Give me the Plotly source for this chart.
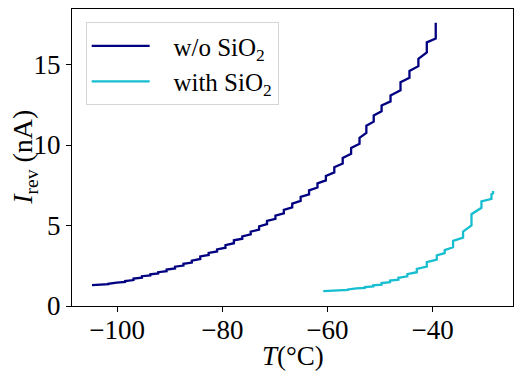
import plotly.graph_objects as go

# w/o SiO2: staircase
# temperature of each rise, current just before the rise, current just after the rise
t_blue = [-104.8, -103.3, -101.7, -100.1, -98.5, -96.9, -95.3, -93.7, -92.2, -90.6,
          -89.0, -87.4, -85.8, -84.2, -82.6, -81.0, -79.4, -77.8, -76.2, -74.6,
          -73.0, -71.5, -69.9, -68.3, -66.7, -65.1, -63.5, -61.9, -60.3, -58.7,
          -57.1, -55.5, -53.9, -52.6, -51.2, -49.7, -48.0, -46.1, -44.4, -42.7,
          -41.1, -39.4]
i_blue_before = [1.30, 1.31, 1.35, 1.41, 1.49, 1.61, 1.76, 1.90, 2.02, 2.16,
                 2.33, 2.51, 2.70, 2.92, 3.17, 3.39, 3.62, 3.90, 4.18, 4.45,
                 4.75, 5.08, 5.42, 5.76, 6.13, 6.53, 6.94, 7.36, 7.80, 8.30,
                 8.85, 9.45, 10.07, 10.75, 11.45, 12.09, 12.71, 13.40, 14.18, 14.90,
                 15.75, 16.62]
i_blue_after = [1.30, 1.33, 1.38, 1.45, 1.55, 1.70, 1.85, 1.97, 2.10, 2.26,
                2.44, 2.62, 2.82, 3.08, 3.30, 3.52, 3.78, 4.08, 4.33, 4.62,
                4.95, 5.28, 5.62, 5.97, 6.36, 6.78, 7.18, 7.62, 8.08, 8.62,
                9.20, 9.82, 10.45, 11.20, 11.84, 12.46, 13.08, 13.90, 14.60, 15.35,
                16.38, 17.60]

# with SiO2
t_cyan = [-60.8, -59.3, -57.7, -56.1, -54.5, -52.9, -51.3, -49.7, -48.1, -46.5,
          -44.8, -43.0, -41.1, -39.2, -37.7, -36.1, -34.2, -32.6, -30.7, -28.8,
          -28.5]
i_cyan_before = [0.93, 0.94, 0.96, 1.00, 1.05, 1.12, 1.21, 1.33, 1.48, 1.64,
                 1.84, 2.10, 2.45, 2.88, 3.28, 3.65, 4.25, 5.00, 6.10, 6.65,
                 7.00]
i_cyan_after = [0.93, 0.95, 0.98, 1.03, 1.09, 1.18, 1.28, 1.42, 1.58, 1.75,
                1.98, 2.30, 2.72, 3.14, 3.47, 4.05, 4.62, 5.70, 6.50, 6.95,
                7.15]

x_ticks = [-100, -80, -60, -40]
y_ticks = [0, 5, 10, 15]


def stairs(t, before, after):
    xs, ys = [], []
    for tk, b, a in zip(t, before, after):
        xs += [tk, tk]
        ys += [b, a]
    return xs, ys


FONT = "Liberation Serif"
NB = "\u00a0" * 3

fig = go.Figure()
xb, yb = stairs(t_blue, i_blue_before, i_blue_after)
xc, yc = stairs(t_cyan, i_cyan_before, i_cyan_after)
fig.add_trace(go.Scatter(x=xb, y=yb, mode="lines", name=NB + "w/o SiO<sub>2</sub>",
                         line=dict(color="#000080", width=2.3)))
fig.add_trace(go.Scatter(x=xc, y=yc, mode="lines", name=NB + "with SiO<sub>2</sub>",
                         line=dict(color="#17becf", width=2.3)))

axis_common = dict(showline=True, linecolor="black", linewidth=1, mirror=True,
                   ticks="outside", ticklen=5, tickwidth=1, tickcolor="black",
                   showgrid=False, zeroline=False, automargin=False,
                   tickfont=dict(family=FONT, size=27, color="black"))

fig.update_xaxes(range=[-108.6, -24.7], tickvals=x_ticks, ticklabelstandoff=-5, **axis_common)
fig.update_yaxes(range=[0, 18.45], tickvals=y_ticks, **axis_common)

fig.add_annotation(text="<i>T</i>(°C)", xref="paper", yref="paper", x=0.5, y=-0.168,
                   xanchor="center", yanchor="middle", showarrow=False,
                   font=dict(family=FONT, size=27, color="black"))
fig.add_annotation(text="<i>I</i><sub>rev</sub> (nA)", xref="paper", yref="paper",
                   x=-0.108, y=0.5, xanchor="center", yanchor="middle", textangle=-90,
                   showarrow=False, font=dict(family=FONT, size=28, color="black"))

fig.update_layout(
    width=506, height=363,
    margin=dict(l=64, r=1, t=1, b=65),
    plot_bgcolor="white", paper_bgcolor="white",
    legend=dict(x=0.031, y=0.956, xanchor="left", yanchor="top",
                bgcolor="rgba(255,255,255,0.8)", bordercolor="#d5d5d5", borderwidth=1,
                font=dict(family=FONT, size=25, color="black"),
                itemwidth=58, tracegroupgap=0),
    showlegend=True,
)

fig.write_html("out.html")
